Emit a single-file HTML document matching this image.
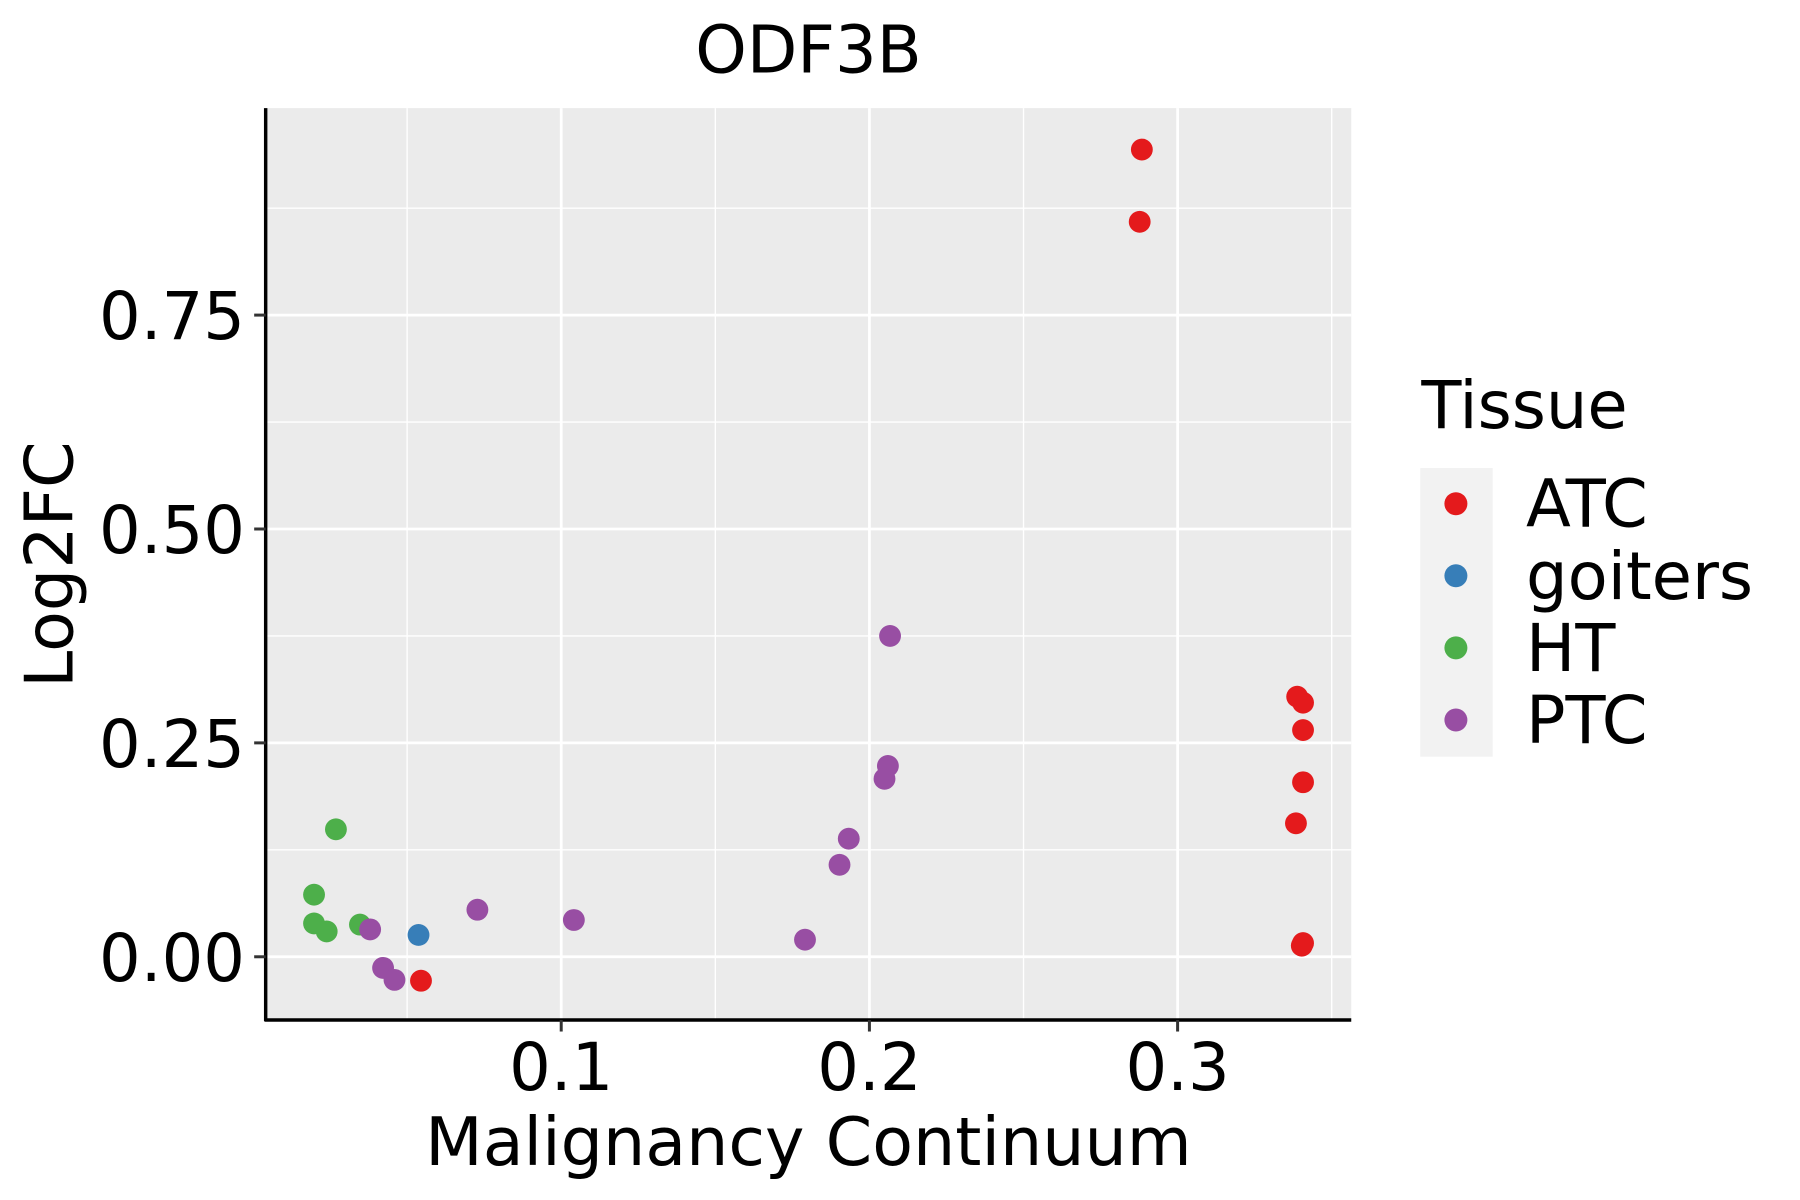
<!DOCTYPE html>
<html><head><meta charset="utf-8"><style>html,body{margin:0;padding:0;background:#fff}svg{display:block}text{font-family:"DejaVu Sans","Liberation Sans",sans-serif}</style></head>
<body>
<svg id="chart" width="1800" height="1200" viewBox="0 0 1565.2 1043.5" xmlns="http://www.w3.org/2000/svg">
<rect width="1565.2" height="1043.5" fill="#fff"/>
<rect x="231" y="94" width="944" height="793" fill="#ebebeb"/>
<g id="grid"></g>
<g id="points"></g>
<line x1="231" y1="94" x2="231" y2="888" stroke="#000" stroke-width="3"/>
<line x1="230" y1="887" x2="1175" y2="887" stroke="#000" stroke-width="3"/>
<g id="ticks"></g>
<text x="703" y="63" font-size="57" text-anchor="middle">ODF3B</text>
<text x="703" y="1013" font-size="58" text-anchor="middle">Malignancy Continuum</text>
<text transform="translate(63,491) rotate(-90)" font-size="58" text-anchor="middle">Log2FC</text>
<text x="1236" y="372" font-size="57">Tissue</text>
<rect x="1235" y="407" width="63" height="251" fill="#f2f2f2"/>
<g id="legend"></g>
</svg>
<script>
const categories = ["ATC","goiters","HT","PTC"];
const colors = ["#e41a1c","#377eb8","#4daf4a","#984ea3"];
const atcX = [0.2884,0.2877,0.3388,0.3407,0.3407,0.3407,0.3384,0.3407,0.3403,0.0545];
const atcY = [0.9435,0.859,0.304,0.297,0.265,0.204,0.156,0.016,0.013,-0.028];
const goitersX = [0.0537];
const goitersY = [0.0255];
const htX = [0.0269,0.0198,0.0198,0.0239,0.0347];
const htY = [0.149,0.0726,0.039,0.0296,0.0376];
const ptcX = [0.2067,0.2060,0.2049,0.1933,0.1903,0.1791,0.1041,0.0728,0.0380,0.0422,0.0459];
const ptcY = [0.375,0.223,0.208,0.138,0.1075,0.020,0.043,0.055,0.032,-0.013,-0.027];
const xTicks = [0.1,0.2,0.3];
const xTickLabels = ["0.1","0.2","0.3"];
const yTicks = [0,0.25,0.5,0.75];
const yTickLabels = ["0.00","0.25","0.50","0.75"];
const xMinor = [0.05,0.15,0.25,0.35];
const yMinor = [0.125,0.375,0.625,0.875];

const NS="http://www.w3.org/2000/svg";
const X = v => 220 + v*2680;
const Y = v => 832 - v*744;
function mk(tag, attrs, parent){const e=document.createElementNS(NS,tag);for(const k in attrs)e.setAttribute(k,attrs[k]);document.getElementById(parent).appendChild(e);return e;}

xMinor.forEach(v=>{const e=mk('line',{x1:X(v),x2:X(v),y1:94,y2:887,stroke:'#fff','stroke-width':1.2},'grid');

});
yMinor.forEach(v=>{const e=mk('line',{x1:231,x2:1175,y1:Y(v),y2:Y(v),stroke:'#fff','stroke-width':1.2},'grid');

});
xTicks.forEach((v,i)=>{const e=mk('line',{x1:X(v),x2:X(v),y1:94,y2:887,stroke:'#fff','stroke-width':2.4},'grid');


const t=mk('line',{x1:X(v),x2:X(v),y1:887,y2:897,stroke:'#333','stroke-width':2.6},'ticks');


const l=mk('text',{x:X(v),y:948,'font-size':57,'text-anchor':'middle'},'ticks');l.textContent=xTickLabels[i];

});
yTicks.forEach((v,i)=>{const e=mk('line',{x1:231,x2:1175,y1:Y(v),y2:Y(v),stroke:'#fff','stroke-width':2.4},'grid');


const t=mk('line',{x1:221,x2:231,y1:Y(v),y2:Y(v),stroke:'#333','stroke-width':2.6},'ticks');


const l=mk('text',{x:213,y:Y(v)+21,'font-size':57,'text-anchor':'end'},'ticks');l.textContent=yTickLabels[i];

});

const seriesX=[atcX,goitersX,htX,ptcX], seriesY=[atcY,goitersY,htY,ptcY];
seriesX.forEach((xs,s)=>xs.forEach((xv,i)=>{const c=mk('circle',{cx:X(xv),cy:Y(seriesY[s][i]),r:9.5,fill:colors[s]},'points');

}));

categories.forEach((c,i)=>{const y=438+i*62.7;
const d=mk('circle',{cx:1266,cy:y,r:10,fill:colors[i]},'legend');


const t=mk('text',{x:1327,y:y+20,'font-size':57},'legend');t.textContent=c;

});
</script>
</body></html>
